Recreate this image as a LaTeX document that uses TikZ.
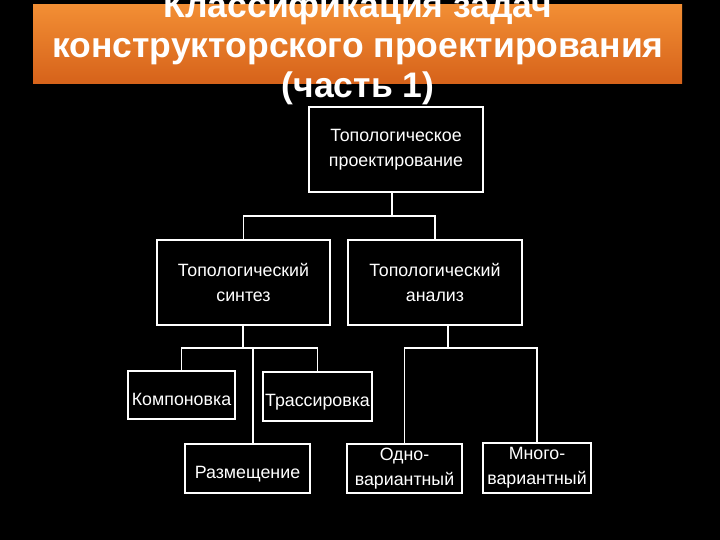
\documentclass[tikz,border=0pt]{standalone}
\usepackage{fontspec}
\setmainfont{Liberation Sans}
\usetikzlibrary{positioning}

\tikzset{
	box/.style={shape=rectangle,draw=white,fill=black,line width=1.5pt,text=white,
		align=center,inner sep=0pt,font=\fontsize{17.8}{25}\selectfont},
	single/.style={box,text height=20pt,text depth=0pt},
	wire/.style={draw=white,line width=1.5pt}
}

\begin{document}
\begin{tikzpicture}[x=1pt,y=-1pt]
	\fill[black] (0,0) rectangle (720,540);
	\useasboundingbox (0,0) rectangle (720,540);

	% title
	\shade[top color={rgb,255:red,242;green,142;blue,52},bottom color={rgb,255:red,214;green,98;blue,26}] (33,5) rectangle (682,84);
	\node[text=white,align=center,font=\bfseries\fontsize{35.5}{40}\selectfont] (title) at (358,48) {Классификация задач\\конструкторского проектирования\\(часть 1)};

	\node[box,minimum width=174pt,minimum height=85pt] (top) at (396,149.5) {Топологическое\\проектирование};
	\node[box,minimum width=173pt,minimum height=85pt] (synth) at (243.5,282.5) {Топологический\\синтез};
	\node[box,minimum width=174pt,minimum height=85pt] (anal) at (435,282.5) {Топологический\\анализ};
	\node[single,minimum width=107pt,minimum height=48pt] (komp) at (181.5,395) {Компоновка};
	\node[single,minimum width=109pt,minimum height=49pt] (trass) at (317.5,396.5) {Трассировка};
	\node[single,minimum width=125pt,minimum height=49pt] (razm) at (247.5,468.5) {Размещение};
	\node[box,minimum width=115pt,minimum height=49pt] (odno) at (404.5,468.5) {Одно-\\вариантный};
	\node[box,minimum width=108pt,minimum height=50pt] (mnogo) at (537,468) {Много-\\вариантный};

	\coordinate (t1) at (392,216);
	\coordinate (s1) at (243,348);
	\coordinate (a1) at (448,348);

	\draw[wire] (top.south -| t1) -- (t1);
	\draw[wire] (synth.north) |- (t1) -| (anal.north);
	\draw[wire] (synth.south -| s1) -- (s1);
	\draw[wire] (komp.north) |- (s1) -| (trass.north);
	\draw[wire] (s1 -| 253,0) -- (razm.north -| 253,0);
	\draw[wire] (anal.south -| a1) -- (a1);
	\draw[wire] (odno.north) |- (a1) -| (mnogo.north);
\end{tikzpicture}
\end{document}
